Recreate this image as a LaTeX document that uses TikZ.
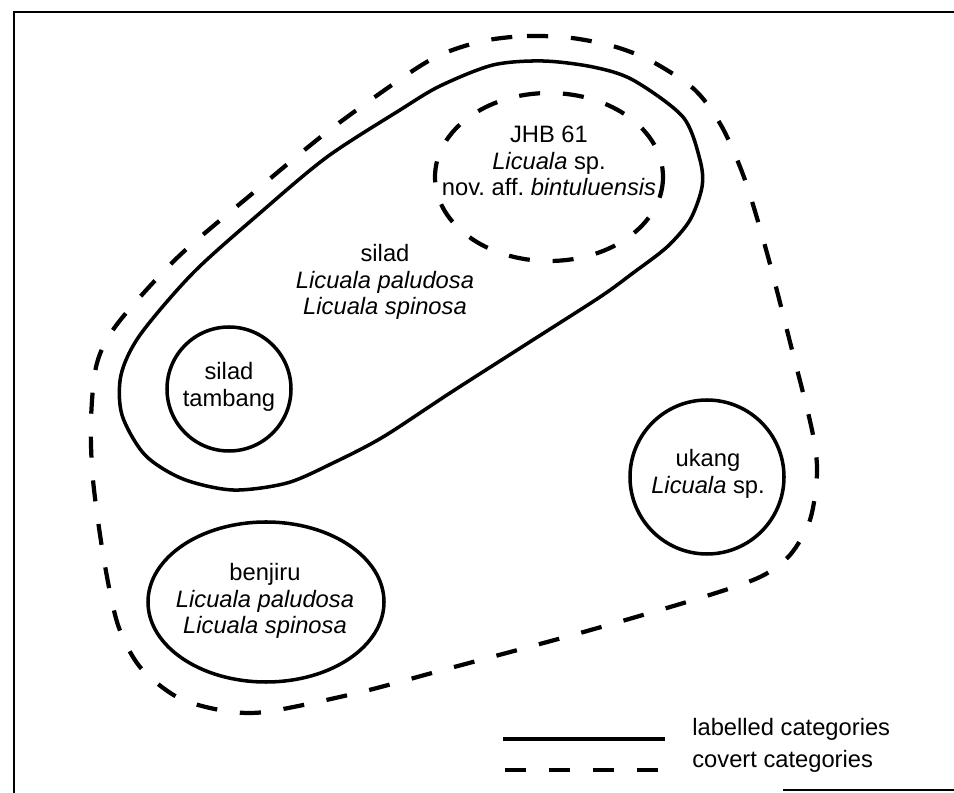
\documentclass[tikz,border=0pt]{standalone}
\usepackage{fontspec}
\setmainfont{Liberation Sans}

\begin{document}
\begin{tikzpicture}[x=0.02cm, y=-0.02cm,
    labelled/.style={line width=2pt},
    covert/.style={line width=2.4pt, dash pattern=on 12pt off 13pt},
    scanframe/.style={line width=1pt},
    taxon/.style={align=center, inner sep=0pt,
        font=\fontsize{13.5}{15.2}\selectfont},
    keytext/.style={anchor=base west, inner sep=0pt,
        font=\fontsize{13.5}{15.2}\selectfont}
]
    \useasboundingbox (0,0) rectangle (954,793);
    % frame of the page
    \draw[scanframe] (14,793) -- (14,12) -- (954,12);
    \draw[scanframe] (783,790) -- (954,790);
    % outer covert category
    \draw[covert] plot[smooth cycle] coordinates {
        (483,41) (527,36) (572,38) (616,47) (653,62) (695,90) (722,127)
        (745,180) (767,253) (790,342) (812,430) (817,473) (810,520)
        (790,555) (760,577) (700,598) (580,633) (443,670) (357,693)
        (265,712) (220,710) (177,697) (140,667) (118,625) (104,560)
        (93,480) (91,420) (97,363) (118,323) (178,257) (253,193)
        (327,132) (402,78) (440,55)};
    % silad
    \draw[labelled] plot[smooth cycle] coordinates {
        (493,65) (543,61) (593,67) (633,80) (683,117) (700,160) (702,187)
        (690,220) (667,247) (633,273) (600,297) (525,345) (450,393)
        (383,437) (333,463) (287,483) (233,490) (183,479) (145,455)
        (122,415) (121,375) (140,335) (193,273) (260,213) (327,157)
        (400,110) (440,86)};
    \draw[covert] (549,177) ellipse [x radius=114, y radius=84];
    \draw[labelled] (229,389) circle [radius=62];
    \draw[labelled] (707,477) circle [radius=77];
    \draw[labelled] (266,602) ellipse [x radius=118, y radius=80];
    % names
    \node[taxon] (jhb) at (549,161)
        {JHB 61\\\textit{Licuala} sp.\\nov.\ aff.\ \textit{bintuluensis}};
    \node[taxon] (silad) at (385,282)
        {silad\\\textit{Licuala paludosa}\\\textit{Licuala spinosa}};
    \node[taxon] (tambang) at (229,387) {silad\\tambang};
    \node[taxon] (ukang) at (708,474) {ukang\\\textit{Licuala} sp.};
    \node[taxon] (benjiru) at (265,601)
        {benjiru\\\textit{Licuala paludosa}\\\textit{Licuala spinosa}};
    % legend
    \coordinate (solidA) at (503,739);
    \coordinate (solidB) at (665,739);
    \coordinate (dashA) at (505,770);
    \coordinate (dashB) at (663,770);
    \draw[labelled] (solidA) -- (solidB);
    \draw[covert] (dashA) -- (dashB);
    \node[keytext] (keylab) at (692,736) {labelled categories};
    \node[keytext] (keycov) at (692,767) {covert categories};
\end{tikzpicture}
\end{document}
